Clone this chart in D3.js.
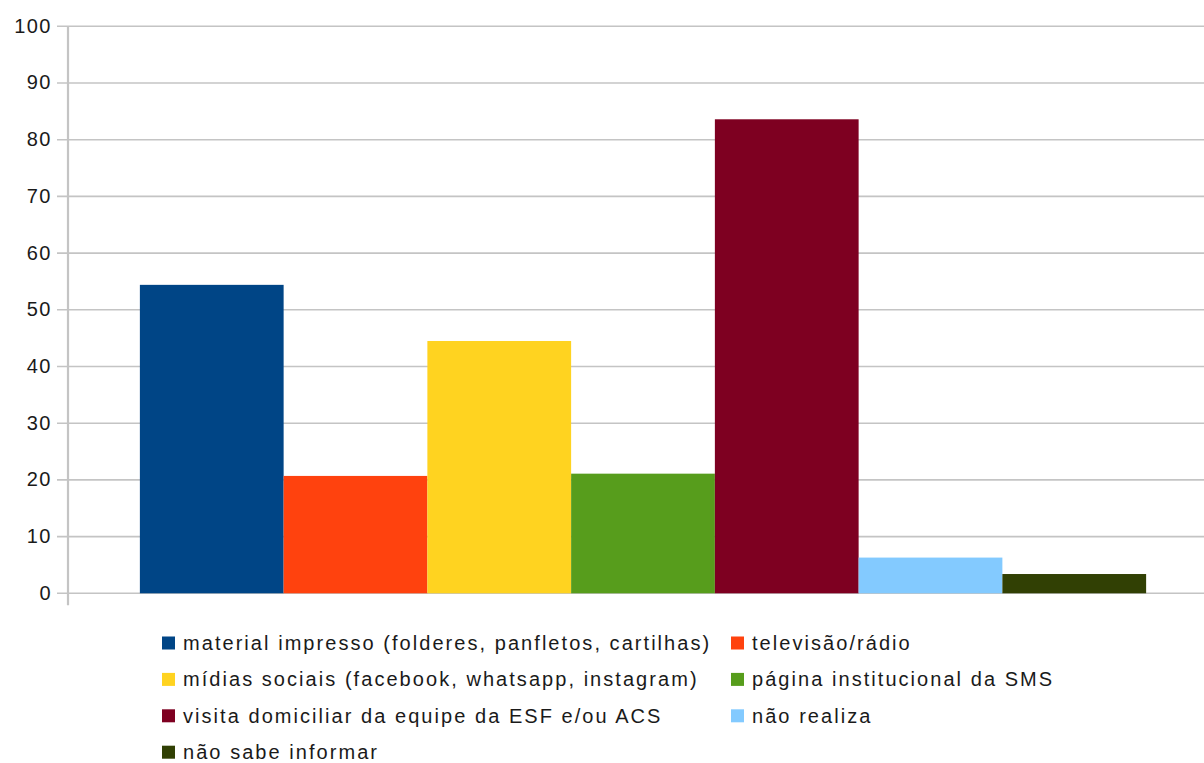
<!DOCTYPE html>
<html>
<head>
<meta charset="utf-8">
<script src="https://cdn.jsdelivr.net/npm/d3@7"></script>
<style>
html, body { margin: 0; padding: 0; background: #fff; }
svg { display: block; font-family: "Liberation Sans", Arial, sans-serif; }
</style>
</head>
<body>
<svg id="chart" width="1204" height="763"></svg>
<script>
const seriesNames = [
  "material impresso (folderes, panfletos, cartilhas)",
  "televisão/rádio",
  "mídias sociais (facebook, whatsapp, instagram)",
  "página institucional da SMS",
  "visita domiciliar da equipe da ESF e/ou ACS",
  "não realiza",
  "não sabe informar"
];
const seriesValues = [54.4, 20.7, 44.5, 21.1, 83.6, 6.3, 3.4];
const seriesColors = ["#004586", "#ff420e", "#ffd320", "#579d1c", "#7e0021", "#83caff", "#314004"];
const yTicks = [0, 10, 20, 30, 40, 50, 60, 70, 80, 90, 100];

(function () {
const svg = d3.select("#chart");
const W = 1204;
const mLeft = 68, plotRight = 1218, mTop = 26.3, mBottom = 593.3;

const y = d3.scaleLinear().domain([0, 100]).range([mBottom, mTop]);
const x = d3.scaleBand().domain(seriesNames).range([mLeft, plotRight]).paddingInner(0).paddingOuter(0.5);

// gridlines
svg.append("g").selectAll("line").data(yTicks).join("line")
  .attr("x1", mLeft - 11).attr("x2", W)
  .attr("y1", d => y(d)).attr("y2", d => y(d))
  .attr("stroke", "#c4c4c4").attr("stroke-width", 1.6);

// y axis line
svg.append("line")
  .attr("x1", mLeft).attr("x2", mLeft)
  .attr("y1", y(100)).attr("y2", mBottom + 12)
  .attr("stroke", "#c4c4c4").attr("stroke-width", 2.2);

// tick labels
svg.append("g").selectAll("text").data(yTicks).join("text")
  .attr("x", mLeft - 16).attr("y", d => y(d))
  .attr("dy", "0.32em")
  .attr("text-anchor", "end")
  .attr("font-size", 20)
  .attr("letter-spacing", 1.5)
  .attr("fill", "#1a1a1a")
  .text(d => d);

// bars
svg.append("g").selectAll("rect").data(seriesNames).join("rect")
  .attr("x", d => x(d))
  .attr("width", x.bandwidth())
  .attr("y", (d, i) => y(seriesValues[i]))
  .attr("height", (d, i) => mBottom - y(seriesValues[i]))
  .attr("fill", (d, i) => seriesColors[i]);

// legend
const legCols = [162, 731];
const legRowY0 = 643, legRowStep = 36.4;
const leg = svg.append("g").selectAll("g").data(seriesNames).join("g")
  .attr("transform", (d, i) => `translate(${legCols[i % 2]},${legRowY0 + Math.floor(i / 2) * legRowStep})`);
leg.append("rect").attr("x", 0).attr("y", -6.5).attr("width", 13).attr("height", 13)
  .attr("fill", (d, i) => seriesColors[i]);
leg.append("text").attr("x", 21).attr("y", 0).attr("dy", "0.34em")
  .attr("font-size", 20).attr("letter-spacing", 2.05).attr("fill", "#1a1a1a")
  .text(d => d);
})();
</script>
</body>
</html>
